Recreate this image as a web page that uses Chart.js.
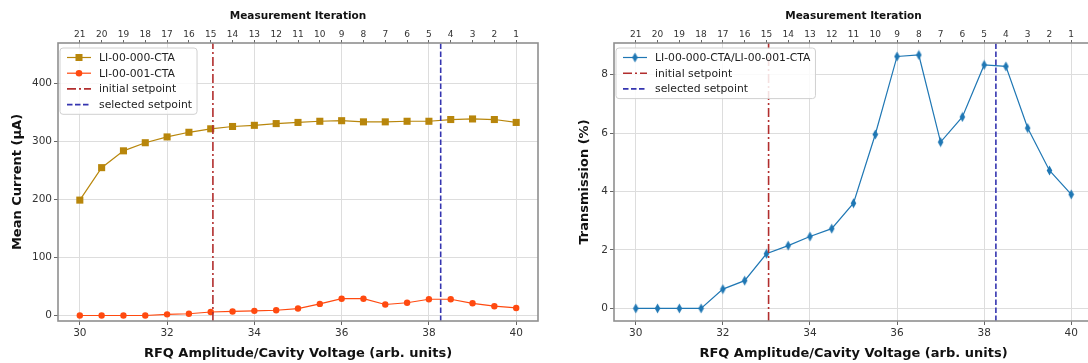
<!DOCTYPE html>
<html><head><meta charset="utf-8">
<script src="https://cdn.jsdelivr.net/npm/chart.js@4/dist/chart.umd.min.js"></script>
<style>
html,body{margin:0;padding:0;background:#fff;overflow:hidden;width:1088px;height:363px;}
#wrapL{position:absolute;left:0;top:0;width:545px;height:363px;}
#wrapR{position:absolute;left:545px;top:0;width:560px;height:363px;}
canvas{display:block;}
</style></head><body>
<div id="wrapL"><canvas id="left" width="545" height="363"></canvas></div>
<div id="wrapR"><canvas id="right" width="560" height="363"></canvas></div>
<script>
// ---- data ----
const voltage = [30,30.5,31,31.5,32,32.5,33,33.5,34,34.5,35,35.5,36,36.5,37,37.5,38,38.5,39,39.5,40];
const iteration = [21,20,19,18,17,16,15,14,13,12,11,10,9,8,7,6,5,4,3,2,1];
const currentCTA000 = [199,255,284,298,308,316,322,326,328,331,333,335,336,334,334,335,335,338,339,338,333];
const currentCTA001 = [0,0,0,0,2,3,6,7,8,9,12,20,29,29,19,22,28,28,21,16,13];
const transmission = [0,0,0,0,0.66,0.95,1.87,2.15,2.46,2.73,3.6,5.95,8.62,8.67,5.69,6.55,8.33,8.28,6.17,4.72,3.9];
const xTickValues = [30,32,34,36,38,40];
const currentTicks = [0,100,200,300,400];
const transmissionTicks = [0,2,4,6,8];
const initialSetpoint = 33.05;
const selectedSetpoint = 38.27;
const xRange = [29.5, 40.5];
const currentRange = [-9.5, 470];
const transmissionRange = [-0.43, 9.08];

// ---- styling helpers ----
const FONT = 'DejaVu Sans';
const COL_A = '#b8860b', COL_B = '#ff4a10', COL_T = '#1f77b4';
const COL_INIT = '#b22e2e', COL_SEL = '#3535b0';
const DASHDOT = [9,3,2,3], DASHED = [5.5,2.5];

function thinDiamond(color){
  const c=document.createElement('canvas'); c.width=7; c.height=11;
  const g=c.getContext('2d'); g.fillStyle=color;
  g.beginPath(); g.moveTo(3.5,0.5); g.lineTo(6.3,5.5); g.lineTo(3.5,10.5); g.lineTo(0.7,5.5); g.closePath(); g.fill();
  return c;
}
const diamondImg = thinDiamond(COL_T);

const framePlugin = {
  id:'frame',
  afterDatasetsDraw(chart){
    const {ctx, chartArea:a} = chart;
    ctx.save(); ctx.strokeStyle='#8f8f8f'; ctx.lineWidth=1.6;
    ctx.strokeRect(a.left,a.top,a.right-a.left,a.bottom-a.top); ctx.restore();
  }
};
const legendPlugin = {
  id:'mplLegend',
  afterDraw(chart){
    const {ctx, chartArea:a} = chart;
    const ds = chart.data.datasets;
    ctx.save();
    ctx.font = '10.8px "'+FONT+'"';
    const rowH=15.7, pad=7, handle=24, gap=8, rpad=5;
    const tw = Math.max(...ds.map(d=>ctx.measureText(d.label).width));
    const x0=a.left+2, y0=a.top+5;
    const w = pad+handle+gap+tw+rpad, h = ds.length*rowH+3.5;
    ctx.beginPath();
    if (ctx.roundRect) ctx.roundRect(x0,y0,w,h,3); else ctx.rect(x0,y0,w,h);
    ctx.fillStyle='rgba(255,255,255,0.85)'; ctx.fill();
    ctx.strokeStyle='#d0d0d0'; ctx.lineWidth=1; ctx.stroke();
    ds.forEach((d,i)=>{
      const cy = y0+9.5+i*rowH;
      const hx0 = x0+pad, hx1 = hx0+handle;
      ctx.save();
      ctx.strokeStyle=d.borderColor; ctx.lineWidth=d.borderWidth;
      ctx.setLineDash(d.borderDash||[]);
      ctx.beginPath(); ctx.moveTo(hx0,cy); ctx.lineTo(hx1,cy); ctx.stroke();
      ctx.setLineDash([]);
      const mx=(hx0+hx1)/2;
      ctx.fillStyle=d.borderColor;
      if (d.legendMarker==='square'){ ctx.fillRect(mx-3.5,cy-3.5,7,7); }
      else if (d.legendMarker==='circle'){ ctx.beginPath(); ctx.arc(mx,cy,3.3,0,Math.PI*2); ctx.fill(); }
      else if (d.legendMarker==='diamond'){ ctx.drawImage(diamondImg,mx-3.5,cy-5.5); }
      ctx.restore();
      ctx.fillStyle='#222'; ctx.textBaseline='middle'; ctx.textAlign='left';
      ctx.fillText(d.label, hx1+gap, cy+0.5);
    });
    ctx.restore();
  }
};

function vline(label, xv, range, color, dash){
  return {label, data:[{x:xv,y:range[0]},{x:xv,y:range[1]}], borderColor:color, backgroundColor:color,
    borderWidth:1.6, borderDash:dash, pointRadius:0, pointHoverRadius:0, legendMarker:null, order:0};
}
function series(label, ys, color, style, radius, marker){
  return {label, data: voltage.map((v,i)=>({x:v,y:ys[i]})), borderColor:color, backgroundColor:color,
    borderWidth:1.2, pointStyle:style, pointRadius:radius, pointBorderWidth:0, pointBackgroundColor:color,
    legendMarker:marker, order:1};
}

function makeScales(yRange, yTicks, yTitle, yTitlePad, yWidth){
  const tickFont = {family:FONT, size:10.5};
  return {
    x: {type:'linear', position:'bottom', min:xRange[0], max:xRange[1],
      afterBuildTicks: ax => { ax.ticks = xTickValues.map(v=>({value:v})); },
      ticks:{font:tickFont, color:'#333', padding:2, maxRotation:0, autoSkip:false},
      grid:{color:'#dddddd', lineWidth:1, tickLength:4, tickColor:'#666'},
      border:{display:false},
      title:{display:true, text:'RFQ Amplitude/Cavity Voltage (arb. units)', color:'#111',
        font:{family:FONT, size:13, weight:'bold'}, padding:{top:0,bottom:2}},
      afterFit: ax => { ax.height = 42; }
    },
    xTop: {type:'linear', position:'top', min:xRange[0], max:xRange[1],
      afterBuildTicks: ax => { ax.ticks = voltage.map(v=>({value:v})); },
      ticks:{font:{family:FONT, size:9}, color:'#333', padding:0, maxRotation:0, autoSkip:false,
        callback:(v,i)=>String(iteration[i])},
      grid:{drawOnChartArea:false, tickLength:3, tickColor:'#666'},
      border:{display:false},
      title:{display:true, text:'Measurement Iteration', color:'#111',
        font:{family:FONT, size:10.5, weight:'bold'}, padding:{top:9.5,bottom:0}},
      afterFit: ax => { ax.height = 43; }
    },
    y: {type:'linear', position:'left', min:yRange[0], max:yRange[1],
      afterBuildTicks: ax => { ax.ticks = yTicks.map(v=>({value:v})); },
      ticks:{font:tickFont, color:'#333', padding:2},
      grid:{color:'#dddddd', lineWidth:1, tickLength:4, tickColor:'#666'},
      border:{display:false},
      title:{display:true, text:yTitle, color:'#111',
        font:{family:FONT, size:13, weight:'bold'}, padding:{top:yTitlePad,bottom:0}},
      afterFit: ax => { ax.width = yWidth; }
    }
  };
}

const common = {
  responsive:false, animation:false, devicePixelRatio:1,
  plugins:{legend:{display:false}, tooltip:{enabled:false}},
};

new Chart(document.getElementById('left'), {
  type:'line',
  data:{datasets:[
    series('LI-00-000-CTA', currentCTA000, COL_A, 'rect', 5, 'square'),
    series('LI-00-001-CTA', currentCTA001, COL_B, 'circle', 3.2, 'circle'),
    vline('initial setpoint', initialSetpoint, currentRange, COL_INIT, DASHDOT),
    vline('selected setpoint', selectedSetpoint, currentRange, COL_SEL, DASHED)
  ]},
  options:Object.assign({}, common, {
    layout:{padding:{left:0,right:7,top:0,bottom:0}},
    scales: makeScales(currentRange, currentTicks, 'Mean Current (µA)', 10, 58)
  }),
  plugins:[framePlugin, legendPlugin]
});

new Chart(document.getElementById('right'), {
  type:'line',
  data:{datasets:[
    series('LI-00-000-CTA/LI-00-001-CTA', transmission, COL_T, diamondImg, 5, 'diamond'),
    vline('initial setpoint', initialSetpoint, transmissionRange, COL_INIT, DASHDOT),
    vline('selected setpoint', selectedSetpoint, transmissionRange, COL_SEL, DASHED)
  ]},
  options:Object.assign({}, common, {
    layout:{padding:{left:0,right:12,top:0,bottom:0}},
    scales: makeScales(transmissionRange, transmissionTicks, 'Transmission (%)', 32, 69)
  }),
  plugins:[framePlugin, legendPlugin]
});
</script>
</body></html>
